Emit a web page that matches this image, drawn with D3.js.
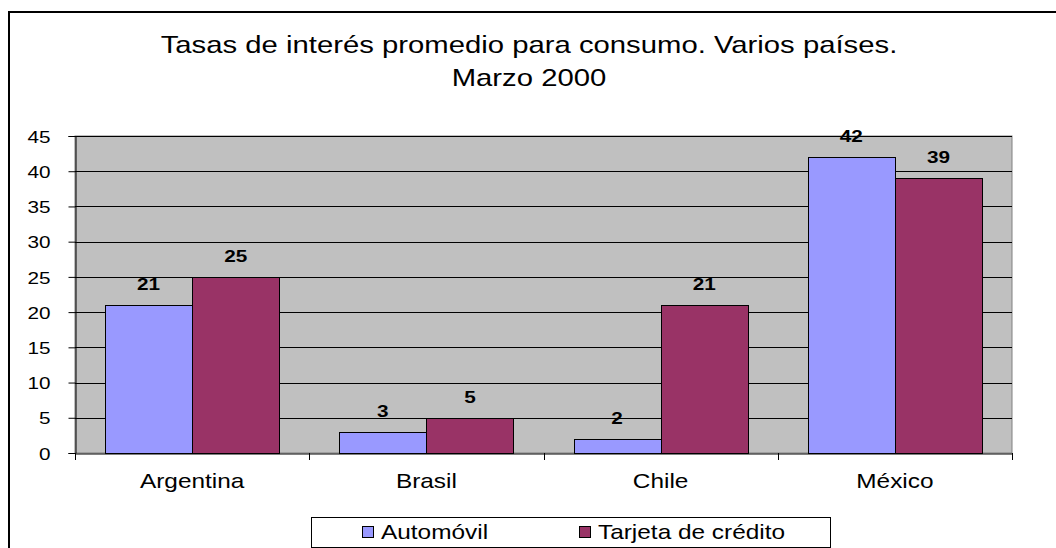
<!DOCTYPE html>
<html>
<head>
<meta charset="utf-8">
<script src="https://cdn.jsdelivr.net/npm/d3@7/dist/d3.min.js"></script>
<style>
  body { margin: 0; background: #fff; }
  svg { display: block; font-family: "Liberation Sans", Arial, sans-serif; }
</style>
</head>
<body>
<div id="chart"></div>
<script>
(function () {
  'use strict';

  var categories = ['Argentina', 'Brasil', 'Chile', 'México'];
  var seriesNames = ['Automóvil', 'Tarjeta de crédito'];
  var automovil = [21, 3, 2, 42];
  var tarjeta = [25, 5, 21, 39];
  var yTicks = [0, 5, 10, 15, 20, 25, 30, 35, 40, 45];
  var titleLines = ['Tasas de interés promedio para consumo. Varios países.', 'Marzo 2000'];
  var colors = ['#9999ff', '#993366'];

  var width = 1056, height = 548;
  var plot = { left: 75, right: 1012, top: 136, bottom: 453 };
  var stretch = 1.22; // text in the original looks widened horizontally

  var svg = d3.select('#chart').append('svg')
    .attr('width', width)
    .attr('height', height);

  // widen a text around its own anchor point
  function widen(sel) {
    sel.each(function () {
      var t = d3.select(this);
      var x = +t.attr('x') || 0;
      t.attr('transform', 'translate(' + x + ',0) scale(' + stretch + ',1) translate(' + (-x) + ',0)');
    });
  }

  // outer chart border
  svg.append('rect')
    .attr('x', 9).attr('y', 12)
    .attr('width', width + 10).attr('height', height + 10)
    .attr('fill', '#fff')
    .attr('stroke', '#000')
    .attr('stroke-width', 2);

  svg.append('g').selectAll('text')
    .data(titleLines)
    .enter()
    .append('text')
    .attr('x', 529)
    .attr('y', function (d, i) { return 53 + i * 33; })
    .attr('text-anchor', 'middle')
    .attr('font-size', 24)
    .text(function (d) { return d; })
    .call(widen);

  var x0 = d3.scaleBand()
    .domain(categories)
    .range([plot.left, plot.right])
    .paddingInner(0)
    .paddingOuter(0);

  var x1 = d3.scaleBand()
    .domain(seriesNames)
    .range([30, x0.bandwidth() - 30]);

  var y = d3.scaleLinear()
    .domain([0, 45])
    .range([plot.bottom, plot.top]);

  // plot background
  svg.append('rect')
    .attr('x', plot.left).attr('y', plot.top)
    .attr('width', plot.right - plot.left)
    .attr('height', plot.bottom - plot.top)
    .attr('fill', '#c0c0c0')
    .attr('stroke', '#808080')
    .attr('stroke-width', 1);

  // gridlines
  svg.append('g').selectAll('line')
    .data(yTicks.slice(1))
    .enter()
    .append('line')
    .attr('x1', plot.left).attr('x2', plot.right)
    .attr('y1', function (d) { return Math.round(y(d)) + 0.5; })
    .attr('y2', function (d) { return Math.round(y(d)) + 0.5; })
    .attr('stroke', '#000');

  // y axis
  var yAxis = svg.append('g')
    .attr('transform', 'translate(' + (plot.left + 0.5) + ',0)')
    .call(d3.axisLeft(y).tickValues(yTicks).tickSize(7).tickPadding(18));
  yAxis.select('.domain').attr('stroke', '#000');
  yAxis.selectAll('.tick line').attr('stroke', '#000');
  yAxis.selectAll('text')
    .attr('font-size', 17)
    .attr('font-family', '"Liberation Sans", Arial, sans-serif')
    .attr('fill', '#000')
    .attr('dy', '0.36em')
    .call(widen);

  // x axis
  var xAxis = svg.append('g')
    .attr('transform', 'translate(0,' + (plot.bottom + 0.5) + ')')
    .call(d3.axisBottom(x0).tickSize(0));
  xAxis.select('.domain').attr('stroke', '#000');
  xAxis.selectAll('text')
    .attr('font-size', 20)
    .attr('font-family', '"Liberation Sans", Arial, sans-serif')
    .attr('fill', '#000')
    .attr('y', 35)
    .attr('dy', 0)
    .call(widen);

  // category boundary ticks
  svg.append('g').selectAll('line')
    .data(d3.range(categories.length + 1))
    .enter()
    .append('line')
    .attr('x1', function (i) { return Math.round(plot.left + i * x0.step()) + 0.5; })
    .attr('x2', function (i) { return Math.round(plot.left + i * x0.step()) + 0.5; })
    .attr('y1', plot.bottom)
    .attr('y2', plot.bottom + 7)
    .attr('stroke', '#000');

  var series = [automovil, tarjeta];
  var rows = [];
  categories.forEach(function (c, ci) {
    seriesNames.forEach(function (s, si) {
      rows.push({ cat: c, name: s, si: si, value: series[si][ci] });
    });
  });

  var groups = svg.append('g');
  groups.selectAll('rect')
    .data(rows)
    .enter()
    .append('rect')
    .attr('x', function (d) { return Math.round(x0(d.cat) + x1(d.name)) + 0.5; })
    .attr('y', function (d) { return Math.round(y(d.value)) + 0.5; })
    .attr('width', Math.round(x1.bandwidth()))
    .attr('height', function (d) { return Math.round(y(0)) - Math.round(y(d.value)); })
    .attr('fill', function (d) { return colors[d.si]; })
    .attr('stroke', '#000')
    .attr('stroke-width', 1);

  groups.selectAll('text')
    .data(rows)
    .enter()
    .append('text')
    .attr('x', function (d) { return x0(d.cat) + x1(d.name) + x1.bandwidth() / 2; })
    .attr('y', function (d) { return y(d.value) - 15; })
    .attr('text-anchor', 'middle')
    .attr('font-size', 17)
    .attr('font-weight', 'bold')
    .text(function (d) { return d.value; })
    .call(widen);

  // legend
  var legend = svg.append('g');
  legend.append('rect')
    .attr('x', 311.5).attr('y', 517.5)
    .attr('width', 519).attr('height', 30)
    .attr('fill', '#fff')
    .attr('stroke', '#000');

  var legendX = [362, 579];
  var item = legend.selectAll('g.item')
    .data(seriesNames)
    .enter()
    .append('g')
    .attr('class', 'item')
    .attr('transform', function (d, i) { return 'translate(' + legendX[i] + ',0)'; });
  item.append('rect')
    .attr('x', 0.5).attr('y', 526.5)
    .attr('width', 11).attr('height', 11)
    .attr('fill', function (d, i) { return colors[i]; })
    .attr('stroke', '#000');
  item.append('text')
    .attr('x', 19)
    .attr('y', 539)
    .attr('font-size', 20)
    .text(function (d) { return d; })
    .call(widen);
})();
</script>
</body>
</html>
